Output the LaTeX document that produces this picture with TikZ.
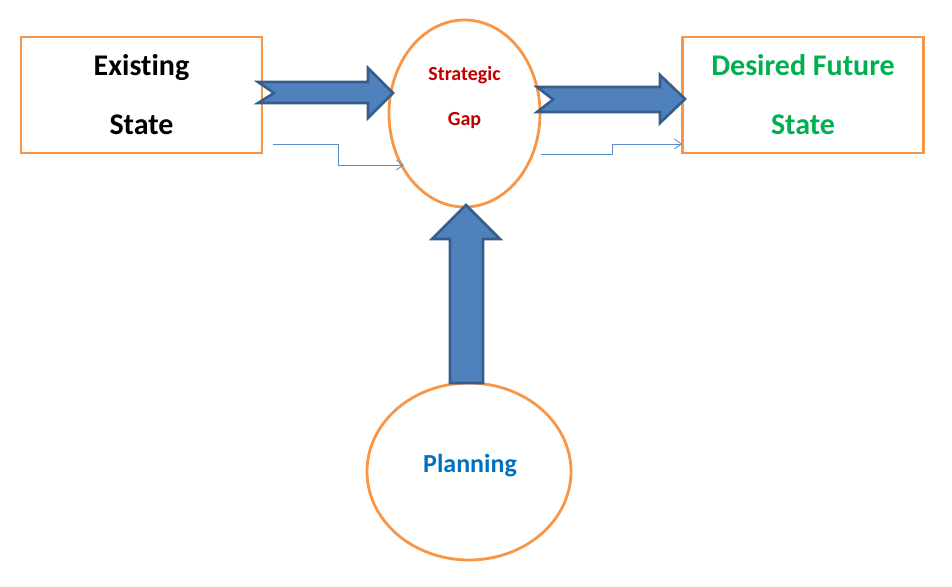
\documentclass[tikz,border=0pt]{standalone}
\usepackage{fontspec}
\setmainfont{Carlito}[Ligatures=NoCommon]
\usetikzlibrary{calc,arrows.meta}
\definecolor{boxorange}{RGB}{247,150,70}
\definecolor{arrfill}{RGB}{79,129,189}
\definecolor{arrdraw}{RGB}{56,93,138}
\definecolor{thinblue}{RGB}{91,140,200}
\definecolor{gapred}{RGB}{192,0,0}
\definecolor{futgreen}{RGB}{0,176,80}
\definecolor{planblue}{RGB}{0,112,192}
\begin{document}
\begin{tikzpicture}[x=1pt,y=-1pt,
  statebox/.style={draw=boxorange,line width=2.8pt,fill=white,minimum width=241pt,minimum height=116pt,inner sep=0pt},
  bigtext/.style={anchor=base,inner sep=0pt,font=\fontsize{30}{36}\selectfont\bfseries},
  blockarrow/.style={fill=arrfill,draw=arrdraw,line width=2.6pt,line join=miter},
  thinconn/.style={draw=thinblue,line width=0.8pt,-{Straight Barb[length=7pt,width=10pt]}}
]
\useasboundingbox (0,0) rectangle (952,586);
% shapes
\node[statebox] (ex) at (141.5,95) {};
\node[bigtext] (ex1) at (141.5,75) {Existing};
\node[bigtext] (ex2) at (141.5,134) {State};
\node[statebox] (fu) at (803,95) {};
\node[bigtext,text=futgreen] (fu1) at (803,75) {Desired Future};
\node[bigtext,text=futgreen] (fu2) at (803,134) {State};
\draw[draw=boxorange,line width=2.8pt] (464.5,113.5) ellipse [x radius=75.5,y radius=93.5];
\node[anchor=base,inner sep=0pt,font=\fontsize{20}{24}\selectfont\bfseries,text=gapred] (gap1) at (464.5,80) {Strategic};
\node[anchor=base,inner sep=0pt,font=\fontsize{20}{24}\selectfont\bfseries,text=gapred] (gap2) at (464.5,125) {Gap};
\draw[draw=boxorange,line width=2.8pt] (469,471.5) ellipse [x radius=102,y radius=88.5];
\node[anchor=base,inner sep=0pt,font=\fontsize{26}{30}\selectfont\bfseries,text=planblue] (plan) at (470,472) {Planning};
% block arrows
\draw[blockarrow] (258,82) -- (368,82) -- (368,68) -- (393,93) -- (368,118) -- (368,103) -- (258,103) -- (274,93) -- cycle;
\draw[blockarrow] (537,87) -- (660,87) -- (660,75) -- (685,99) -- (660,123) -- (660,112) -- (537,112) -- (553,99.5) -- cycle;
\draw[blockarrow] (450,383) -- (450,239) -- (432,239) -- (466,205) -- (500,239) -- (483,239) -- (483,383) -- cycle;
% thin connectors
\coordinate (s1) at (273,144);
\coordinate (e1) at (404,165);
\coordinate (s2) at (541,154);
\coordinate (e2) at (682,144);
\draw[thinconn] (s1) -- (338,144) -- (338,165) -- (e1);
\draw[thinconn] (s2) -- (612,154) -- (612,144) -- (e2);
\end{tikzpicture}
\end{document}
